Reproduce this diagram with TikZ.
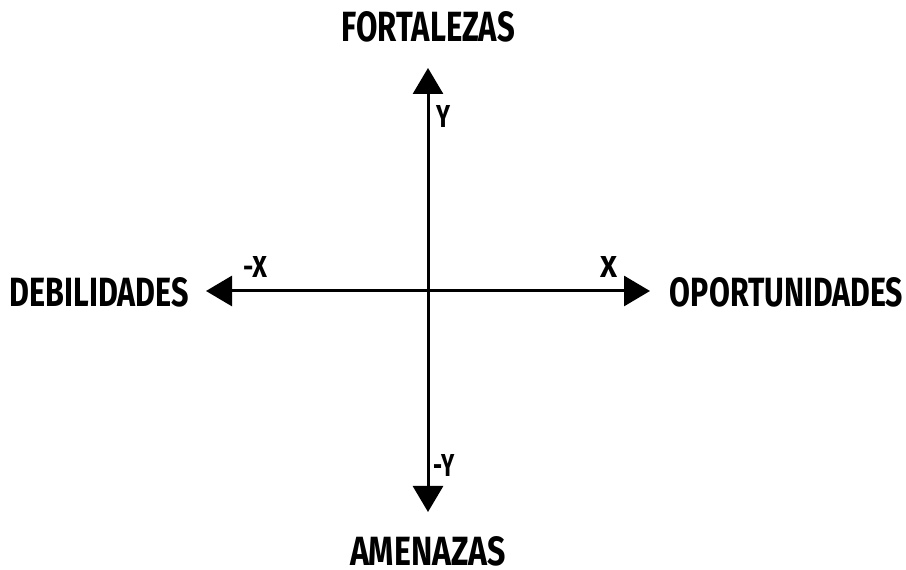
\documentclass[tikz,border=0pt]{standalone}
\usepackage{fontspec}
\setmainfont{Fira Sans}
\usetikzlibrary{arrows.meta}
\newcommand{\fitlabel}[3]{\resizebox{#1}{#2}{\bfseries #3}}
\tikzset{
  lbl/.style={inner sep=0pt, outer sep=0pt, anchor=center},
  axis/.style={line width=3pt, -{Triangle[length=26pt,width=30pt]}}
}
\begin{document}
\begin{tikzpicture}[x=1pt,y=1pt]
\useasboundingbox (0,0) rectangle (906,570);
\coordinate (o) at (428,279);
\coordinate (top) at (428,502);
\coordinate (bot) at (428,58);
\coordinate (lft) at (206,279);
\coordinate (rgt) at (650,279);
\draw[axis] (o) -- (top);
\draw[axis] (o) -- (bot);
\draw[axis] (o) -- (lft);
\draw[axis] (o) -- (rgt);
\node[lbl] (fort) at (428.5,543) {\fitlabel{173pt}{30pt}{FORTALEZAS}};
\node[lbl] (deb) at (99.5,277.5) {\fitlabel{179pt}{29pt}{DEBILIDADES}};
\node[lbl] (opo) at (786.5,277.5) {\fitlabel{233pt}{29pt}{OPORTUNIDADES}};
\node[lbl] (ame) at (428,18.5) {\fitlabel{156pt}{29pt}{AMENAZAS}};
\node[lbl] (ly) at (443,453.5) {\fitlabel{14pt}{22pt}{Y}};
\node[lbl] (lmx) at (255,302.5) {\fitlabel{24pt}{21pt}{-X}};
\node[lbl] (lx) at (608.5,302.5) {\fitlabel{17pt}{21pt}{X}};
\node[lbl] (lmy) at (444,104) {\fitlabel{21pt}{22pt}{-Y}};
\end{tikzpicture}
\end{document}
